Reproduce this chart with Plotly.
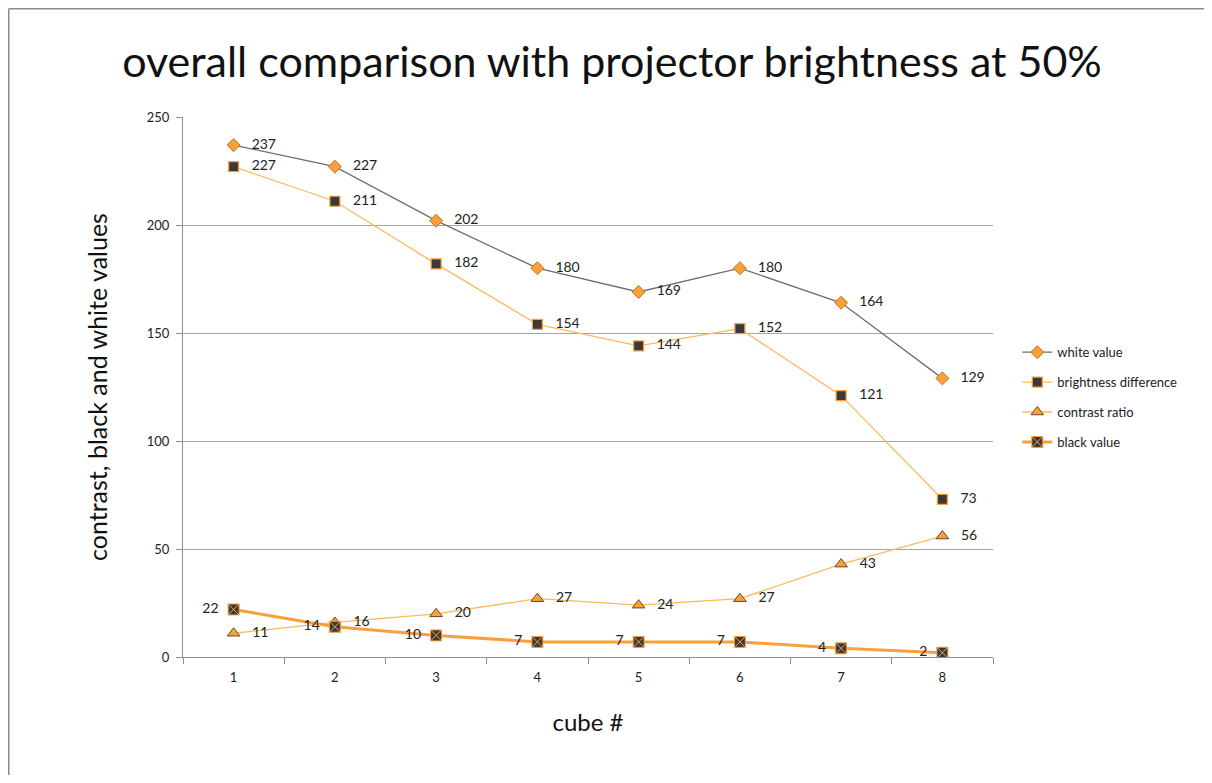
import plotly.graph_objects as go

cubes = ["1", "2", "3", "4", "5", "6", "7", "8"]
white_value = [237, 227, 202, 180, 169, 180, 164, 129]
brightness_difference = [227, 211, 182, 154, 144, 152, 121, 73]
contrast_ratio = [11, 16, 20, 27, 24, 27, 43, 56]
black_value = [22, 14, 10, 7, 7, 7, 4, 2]

ORANGE = "#F9A03C"
DARK = "#3A3A3A"
font = "Lato"

W, H = 1196, 767
ML, MR, MT, MB = 175, 211, 109, 118
PW, PH = W - ML - MR, H - MT - MB

fig = go.Figure()

def txt(vals, left=False):
    return [(f"{v}  " if left else f"   {v}") for v in vals]

fig.add_trace(go.Scatter(
    x=cubes, y=white_value, name="white value", legendgroup="a",
    mode="lines+markers+text", text=txt(white_value), textposition="middle right",
    line=dict(color="#6E6E6E", width=1.3),
    marker=dict(symbol="diamond", size=10, color=ORANGE, line=dict(color="#C07820", width=1)),
    textfont=dict(size=14, color="#222"),
))
fig.add_trace(go.Scatter(
    x=cubes, y=brightness_difference, name="brightness difference", legendgroup="b",
    mode="lines+markers+text", text=txt(brightness_difference), textposition="middle right",
    line=dict(color="#FFB860", width=1.3),
    marker=dict(symbol="square", size=10, color=DARK, line=dict(color=ORANGE, width=1.2)),
    textfont=dict(size=14, color="#222"),
))
fig.add_trace(go.Scatter(
    x=cubes, y=contrast_ratio, name="contrast ratio", legendgroup="c",
    mode="lines+markers+text", text=txt(contrast_ratio), textposition="middle right",
    line=dict(color="#FFB860", width=1.3),
    marker=dict(symbol="triangle-up", size=11, color=ORANGE, line=dict(color="#6A4A20", width=1)),
    textfont=dict(size=14, color="#222"),
))
fig.add_trace(go.Scatter(
    x=cubes, y=black_value, name="black value", legendgroup="d",
    mode="lines+markers+text", text=txt(black_value, left=True), textposition="middle left",
    line=dict(color=ORANGE, width=3),
    marker=dict(symbol="square-x", size=11, color=DARK, line=dict(color=ORANGE, width=1)),
    textfont=dict(size=14, color="#222"),
))

bx = (0.75 - ML) / PW
by = (PH + MT - 0.75) / PH
fig.update_layout(
    width=W, height=H,
    margin=dict(l=ML, r=MR, t=MT, b=MB),
    paper_bgcolor="white", plot_bgcolor="white",
    font=dict(family=font, color="#222"),
    title=dict(text="overall comparison with projector brightness at 50%",
               x=(612 - 8) / W, xanchor="center", y=1 - 54 / H, yanchor="middle",
               font=dict(size=43, color="#111", family=font)),
    showlegend=True,
    legend=dict(x=1.03, xanchor="left", y=0.481, yanchor="middle",
                font=dict(size=13, color="#222"), tracegroupgap=10,
                traceorder="grouped", bgcolor="rgba(0,0,0,0)"),
    xaxis=dict(
        type="category", range=[-0.5, 7.5],
        title=dict(text="cube #", font=dict(size=24, color="#111"), standoff=30),
        showline=True, linecolor="#909090", linewidth=1,
        ticks="outside", tickson="boundaries", ticklen=6, tickcolor="#909090",
        ticklabelstandoff=8,
        showgrid=False, tickfont=dict(size=13, color="#222"), zeroline=False,
    ),
    yaxis=dict(
        range=[0, 250], dtick=50,
        title=dict(text="contrast, black and white values", font=dict(size=25, color="#111"), standoff=32),
        showline=True, linecolor="#909090", linewidth=1,
        ticks="outside", ticklen=6, tickcolor="#909090",
        ticklabelstandoff=4,
        showgrid=True, gridcolor="#A6A6A6", gridwidth=1,
        tickfont=dict(size=13, color="#222"), zeroline=False,
    ),
    shapes=[
        dict(type="line", xref="paper", yref="paper", x0=bx, x1=(W - ML) / PW,
             y0=by, y1=by, line=dict(color="#8A8A8A", width=1.5)),
        dict(type="line", xref="paper", yref="paper", x0=bx, x1=bx,
             y0=by, y1=-MB / PH, line=dict(color="#8A8A8A", width=1.5)),
    ],
)

fig.write_html("out.html")
